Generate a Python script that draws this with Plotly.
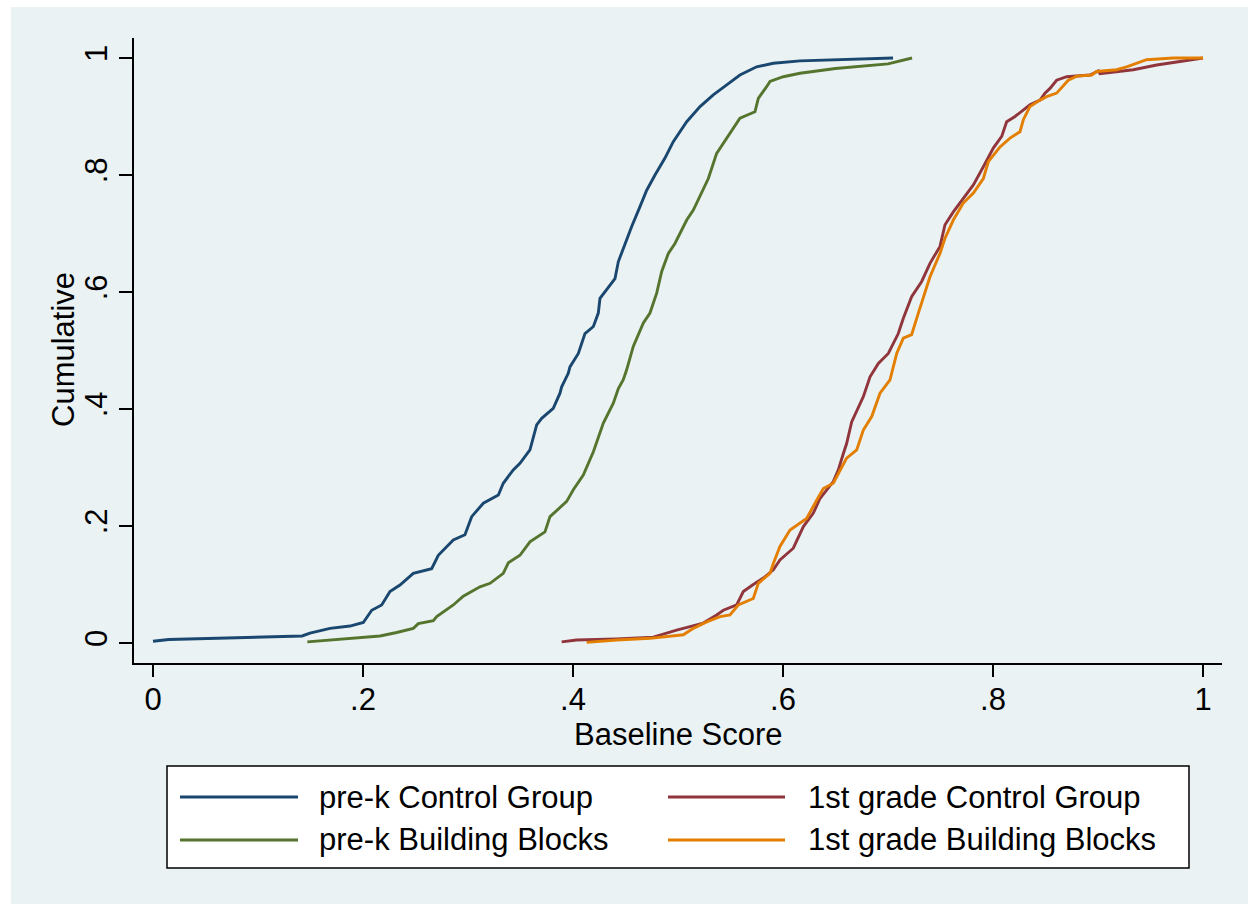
import plotly.graph_objects as go

# ---- data: empirical cumulative distributions of baseline scores ----
series_names = [
    "pre-k Control Group",
    "1st grade Control Group",
    "pre-k Building Blocks",
    "1st grade Building Blocks",
]
series_colors = ["#1a476f", "#90353b", "#55752f", "#e37e00"]

prek_control_x = [0.000, 0.015, 0.142, 0.1495, 0.1686, 0.1876, 0.2003, 0.2083, 0.2178, 0.2257,
                  0.2352, 0.2479, 0.2654, 0.2717, 0.2860, 0.2971, 0.3035, 0.3146, 0.3289, 0.3336,
                  0.3431, 0.3495, 0.3590, 0.3654, 0.3702, 0.3812, 0.3876, 0.3892, 0.3955, 0.3971,
                  0.4051, 0.4114, 0.4194, 0.4241, 0.4257, 0.4336, 0.4400, 0.4432, 0.4495, 0.4559,
                  0.4638, 0.4702, 0.4781, 0.4876, 0.4955, 0.5083, 0.5210, 0.5336, 0.5464, 0.5590,
                  0.5749, 0.5908, 0.6162, 0.6500, 0.7048]
prek_control_y = [0.003, 0.006, 0.012, 0.017, 0.025, 0.029, 0.035, 0.056, 0.065, 0.088,
                  0.099, 0.119, 0.127, 0.150, 0.176, 0.185, 0.216, 0.239, 0.253, 0.273,
                  0.296, 0.307, 0.330, 0.373, 0.384, 0.401, 0.427, 0.438, 0.461, 0.472,
                  0.495, 0.529, 0.541, 0.564, 0.589, 0.609, 0.623, 0.652, 0.683, 0.712,
                  0.746, 0.774, 0.800, 0.829, 0.857, 0.891, 0.917, 0.937, 0.954, 0.971,
                  0.985, 0.991, 0.995, 0.997, 1.000]

prek_bb_x = [0.147, 0.194, 0.2162, 0.2321, 0.2479, 0.2527, 0.2670, 0.2702, 0.2860, 0.2955,
             0.3114, 0.3210, 0.3336, 0.3384, 0.3495, 0.3590, 0.3733, 0.3781, 0.3940, 0.4003,
             0.4098, 0.4194, 0.4289, 0.4384, 0.4432, 0.4479, 0.4511, 0.4574, 0.4670, 0.4733,
             0.4797, 0.4845, 0.4908, 0.4971, 0.5083, 0.5146, 0.5210, 0.5289, 0.5368, 0.5464,
             0.5590, 0.5733, 0.5765, 0.5844, 0.5876, 0.6003, 0.6162, 0.6500, 0.7000, 0.7229]
prek_bb_y = [0.002, 0.008, 0.012, 0.018, 0.025, 0.033, 0.038, 0.045, 0.065, 0.080,
             0.096, 0.102, 0.119, 0.137, 0.150, 0.173, 0.190, 0.216, 0.242, 0.262,
             0.287, 0.327, 0.376, 0.410, 0.435, 0.450, 0.467, 0.507, 0.547, 0.564,
             0.598, 0.635, 0.666, 0.683, 0.723, 0.740, 0.763, 0.794, 0.837, 0.863,
             0.897, 0.908, 0.931, 0.951, 0.960, 0.968, 0.974, 0.982, 0.990, 1.000]

g1_control_x = [0.3892, 0.4035, 0.4416, 0.4765, 0.4987, 0.5241, 0.5368, 0.5432, 0.5559, 0.5622,
                0.5717, 0.5813, 0.5908, 0.5971, 0.6098, 0.6194, 0.6289, 0.6352, 0.6479, 0.6527,
                0.6575, 0.6606, 0.6654, 0.6702, 0.6765, 0.6829, 0.6908, 0.7003, 0.7098, 0.7146,
                0.7225, 0.7321, 0.7400, 0.7495, 0.7543, 0.7622, 0.7717, 0.7813, 0.7908, 0.8003,
                0.8083, 0.8130, 0.8210, 0.8289, 0.8352, 0.8448, 0.8495, 0.8543, 0.8606, 0.8702,
                0.8924, 0.9003, 0.9019, 0.9336, 0.9559, 0.9781, 1.0000]
g1_control_y = [0.002, 0.005, 0.007, 0.010, 0.022, 0.034, 0.048, 0.056, 0.065, 0.088,
                0.100, 0.111, 0.125, 0.142, 0.162, 0.199, 0.222, 0.247, 0.276, 0.296,
                0.324, 0.341, 0.378, 0.398, 0.421, 0.455, 0.478, 0.495, 0.529, 0.555,
                0.592, 0.618, 0.649, 0.678, 0.715, 0.737, 0.760, 0.783, 0.814, 0.846,
                0.866, 0.891, 0.900, 0.911, 0.920, 0.928, 0.940, 0.948, 0.962, 0.968,
                0.971, 0.978, 0.973, 0.980, 0.988, 0.994, 1.000]

g1_bb_x = [0.4130, 0.4416, 0.4733, 0.5051, 0.5146, 0.5273, 0.5400, 0.5495, 0.5574, 0.5717,
           0.5765, 0.5876, 0.5908, 0.5971, 0.6067, 0.6225, 0.6321, 0.6384, 0.6479, 0.6575,
           0.6606, 0.6702, 0.6765, 0.6845, 0.6924, 0.7019, 0.7083, 0.7146, 0.7225, 0.7289,
           0.7352, 0.7400, 0.7495, 0.7543, 0.7622, 0.7717, 0.7813, 0.7908, 0.7956, 0.8067,
           0.8162, 0.8257, 0.8290, 0.8352, 0.8448, 0.8511, 0.8606, 0.8717, 0.8797, 0.8940,
           0.8987, 0.9178, 0.9273, 0.9368, 0.9463, 0.9717, 1.0000]
g1_bb_y = [0.001, 0.005, 0.008, 0.014, 0.025, 0.036, 0.045, 0.048, 0.065, 0.076,
           0.102, 0.119, 0.136, 0.165, 0.193, 0.213, 0.244, 0.264, 0.273, 0.304,
           0.316, 0.330, 0.364, 0.387, 0.427, 0.450, 0.495, 0.521, 0.527, 0.564,
           0.598, 0.626, 0.666, 0.692, 0.723, 0.752, 0.769, 0.794, 0.823, 0.848,
           0.863, 0.874, 0.895, 0.917, 0.928, 0.934, 0.940, 0.962, 0.969, 0.971,
           0.977, 0.980, 0.985, 0.991, 0.997, 1.000, 1.000]

tick_values = [0, 0.2, 0.4, 0.6, 0.8, 1]
tick_labels = ["0", ".2", ".4", ".6", ".8", "1"]
x_title = "Baseline Score"
y_title = "Cumulative"

series_x = [prek_control_x, g1_control_x, prek_bb_x, g1_bb_x]
series_y = [prek_control_y, g1_control_y, prek_bb_y, g1_bb_y]

# ---- page geometry (pixels) ----
W, H = 1248, 907
PL, PR, PT, PB = 134, 1222, 38, 663     # plot region
BG = "#eaf2f3"
FONT = "Liberation Sans, Arial, Helvetica, sans-serif"
FS = 31
LW = 2.9


def px(xp):
    return (xp - PL) / (PR - PL)


def py(yp):
    return (PB - yp) / (PB - PT)


fig = go.Figure()
for name, color, xs, ys in zip(series_names, series_colors, series_x, series_y):
    fig.add_trace(go.Scatter(x=xs, y=ys, mode="lines", name=name,
                             line=dict(color=color, width=LW), showlegend=False))

shapes = [
    # light graph-region background
    dict(type="rect", xref="paper", yref="paper", layer="below",
         x0=px(11), x1=px(1248), y0=py(904), y1=py(7),
         fillcolor=BG, line=dict(width=0)),
    # legend frame
    dict(type="rect", xref="paper", yref="paper",
         x0=px(167), x1=px(1189), y0=py(868), y1=py(766),
         fillcolor="white", line=dict(color="black", width=1.5)),
]
annotations = [
    dict(text=x_title, x=px(678), y=py(734), xref="paper", yref="paper",
         showarrow=False, font=dict(family=FONT, size=FS, color="black"),
         xanchor="center", yanchor="middle"),
    dict(text=y_title, x=px(63), y=py(350), xref="paper", yref="paper",
         showarrow=False, textangle=-90, font=dict(family=FONT, size=FS, color="black"),
         xanchor="center", yanchor="middle"),
]

# legend: two columns, two rows
legend_slots = [(180, 298, 317, 797), (668, 785, 806, 797),
                (180, 298, 317, 840), (668, 785, 806, 840)]
for name, color, (lx0, lx1, tx, ly) in zip(series_names, series_colors, legend_slots):
    shapes.append(dict(type="line", xref="paper", yref="paper",
                       x0=px(lx0), x1=px(lx1), y0=py(ly), y1=py(ly),
                       line=dict(color=color, width=LW)))
    annotations.append(dict(text=name, x=px(tx), y=py(ly), xref="paper", yref="paper",
                            showarrow=False, xanchor="left", yanchor="middle",
                            font=dict(family=FONT, size=FS, color="black")))

x_per = (1203 - 153) / 1.0
y_per = (643 - 58) / 1.0
fig.update_layout(
    width=W, height=H,
    margin=dict(l=PL, r=W - PR, t=PT, b=H - PB, pad=0),
    paper_bgcolor="white", plot_bgcolor="white",
    font=dict(family=FONT, size=FS, color="black"),
    shapes=shapes, annotations=annotations,
    showlegend=False,
    xaxis=dict(range=[-(153 - PL) / x_per, 1 + (PR - 1203) / x_per],
               tickvals=tick_values, ticktext=tick_labels,
               ticks="outside", ticklen=12, tickwidth=1.5, tickcolor="black",
               ticklabelstandoff=-4,
               showline=True, linecolor="black", linewidth=2,
               showgrid=False, zeroline=False,
               tickfont=dict(family=FONT, size=FS, color="black")),
    yaxis=dict(range=[-(PB - 643) / y_per, 1 + (58 - PT) / y_per],
               tickvals=tick_values, ticktext=tick_labels, tickangle=-90,
               ticks="outside", ticklen=13, tickwidth=1.5, tickcolor="black",
               showline=True, linecolor="black", linewidth=2,
               showgrid=True, gridcolor=BG, gridwidth=2, zeroline=False,
               tickfont=dict(family=FONT, size=FS, color="black")),
)

fig.write_html("out.html")
